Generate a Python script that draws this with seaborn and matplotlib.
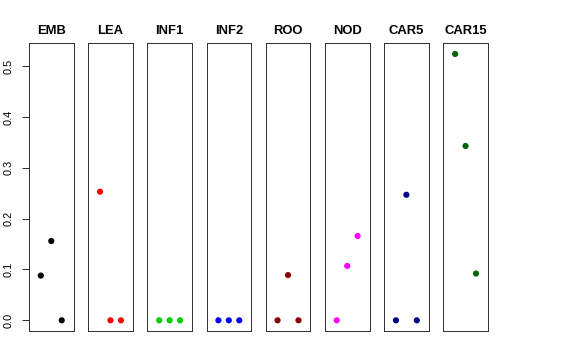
import numpy as np
import pandas as pd
import seaborn as sns
import matplotlib.pyplot as plt

groups = ['EMB', 'LEA', 'INF1', 'INF2', 'ROO', 'NOD', 'CAR5', 'CAR15']
colors = ['black', 'red', '#00CD00', 'blue', '#8B0000', 'magenta', '#00008B', '#006400']
positions = [1, 2, 3]
values = {
    'EMB':   [0.088, 0.156, 0.0],
    'LEA':   [0.253, 0.0, 0.0],
    'INF1':  [0.0, 0.0, 0.0],
    'INF2':  [0.0, 0.0, 0.0],
    'ROO':   [0.0, 0.089, 0.0],
    'NOD':   [0.0, 0.107, 0.166],
    'CAR5':  [0.0, 0.247, 0.0],
    'CAR15': [0.524, 0.343, 0.092],
}

rows = []
for g in groups:
    for x, v in zip(positions, values[g]):
        rows.append({'group': g, 'x': x, 'value': v})
df = pd.DataFrame(rows)

sns.set_style('white')
plt.rcParams['font.family'] = ['Liberation Sans', 'DejaVu Sans']
plt.rcParams['text.color'] = 'black'
plt.rcParams['ytick.color'] = 'black'

fig, axes = plt.subplots(1, len(groups), figsize=(8, 5), dpi=72, sharey=True)
fig.subplots_adjust(left=0.0503, right=0.847, bottom=0.0806, top=0.8797, wspace=0.327)

for ax, g, c in zip(axes, groups, colors):
    sub = df[df['group'] == g]
    sns.scatterplot(data=sub, x='x', y='value', color=c, s=38, edgecolor='none', ax=ax, legend=False)
    ax.set_title(g, fontsize=13, fontweight='bold', pad=9, color='black')
    ax.set_xlim(-0.135, 4.135)
    ax.set_ylim(-0.021, 0.545)
    ax.set_xticks([])
    ax.set_xlabel('')
    ax.set_ylabel('')
    for sp in ax.spines.values():
        sp.set_visible(True)
        sp.set_color('#333333')
        sp.set_linewidth(1)
    ax.tick_params(axis='y', left=False, labelleft=False)

axes[0].set_yticks([0.0, 0.1, 0.2, 0.3, 0.4, 0.5])
axes[0].set_yticklabels(['0.0', '0.1', '0.2', '0.3', '0.4', '0.5'], rotation=90, va='center')
axes[0].tick_params(axis='y', left=True, labelleft=True, direction='out', length=7, width=1,
                    pad=8, labelsize=11, color='#333333', labelcolor='black')

fig.savefig('out.png', dpi=72)
